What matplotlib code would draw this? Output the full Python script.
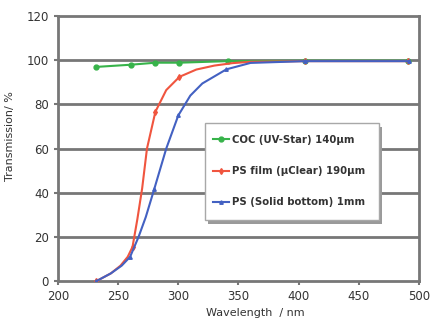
import numpy as np
import matplotlib
matplotlib.use("Agg")
import matplotlib.pyplot as plt
import matplotlib.transforms as mtransforms
from matplotlib.patches import Rectangle

# values
coc_nm = [232, 261, 281, 301, 341, 405, 491]
coc_t = [97.0, 98.0, 98.9, 98.9, 99.6, 99.8, 99.8]

film_nm = [232, 244, 252, 258, 262, 266, 270, 274, 281, 290, 301, 315, 330, 345, 360, 405, 491]
film_t = [0.0, 3.5, 7.0, 11.0, 15.5, 28.0, 42.0, 60.0, 76.7, 86.5, 92.5, 95.8, 97.6, 98.7, 99.3, 99.6, 99.6]
film_marks = [0, 4, 8, 10, 15, 16]

solid_nm = [232, 244, 253, 260, 267, 273, 280, 290, 300, 310, 320, 340, 360, 405, 492]
solid_t = [0.0, 3.5, 7.0, 11.0, 20.0, 29.0, 41.6, 60.0, 75.0, 84.0, 89.5, 95.9, 98.8, 99.6, 99.6]
solid_marks = [0, 3, 6, 8, 11, 13, 14]

xticks = [200, 250, 300, 350, 400, 450, 500]
yticks = [0, 20, 40, 60, 80, 100, 120]

grey = "#777777"
txt = "#333333"

fig = plt.figure(figsize=(4.32, 3.22), dpi=100)
ax = fig.add_axes([0.134, 0.127, 0.836, 0.823])

for y in yticks[1:-1]:
    ax.axhline(y, color=grey, lw=2.0, zorder=1)

ax.plot(coc_nm, coc_t, "-o", color="#37b34a", lw=1.5, ms=3.5,
        label="COC (UV-Star) 140µm", zorder=3)
ax.plot(film_nm, film_t, "-d", color="#f0553f", lw=1.5, ms=3,
        markevery=film_marks, label="PS film (µClear) 190µm", zorder=4)
ax.plot(solid_nm, solid_t, "-^", color="#4361c2", lw=1.5, ms=2.5,
        markevery=solid_marks, label="PS (Solid bottom) 1mm", zorder=5)

ax.set_xlim(200, 500)
ax.set_ylim(0, 120)
ax.set_xticks(xticks)
ax.set_yticks(yticks)
for s in ax.spines.values():
    s.set_color(grey)
    s.set_linewidth(2.0)
ax.tick_params(colors=grey, labelcolor=txt, labelsize=8.5, length=3, width=1.5)

ax.set_xlabel("Wavelength  / nm", fontsize=8, color=txt)
ax.xaxis.set_label_coords(0.548, -0.1)
ax.set_ylabel("Transmission/ %", fontsize=8, color=txt)
ax.yaxis.set_label_coords(-0.118, 0.547)

# legend box with a drop shadow, legend entries drawn inside it
box_xy, box_w, box_h = (0.407, 0.23), 0.482, 0.366
shadow_tr = mtransforms.offset_copy(ax.transAxes, fig=fig, x=2.5, y=-2.5, units="points")
ax.add_patch(Rectangle(box_xy, box_w, box_h, transform=shadow_tr,
                       facecolor="#9a9a9a", edgecolor="none", zorder=5.5))
ax.add_patch(Rectangle(box_xy, box_w, box_h, transform=ax.transAxes,
                       facecolor="white", edgecolor="#a8a8a8", lw=1.0, zorder=6))

leg = ax.legend(loc="center", bbox_to_anchor=(0.64, 0.415), frameon=False,
                handlelength=1.6, handletextpad=0.3, labelspacing=2.1,
                borderpad=0.0, prop={"weight": "bold", "size": 7.3})
leg.set_zorder(7)
for t in leg.get_texts():
    t.set_color(txt)

fig.savefig("out.png", dpi=100, facecolor="white")
